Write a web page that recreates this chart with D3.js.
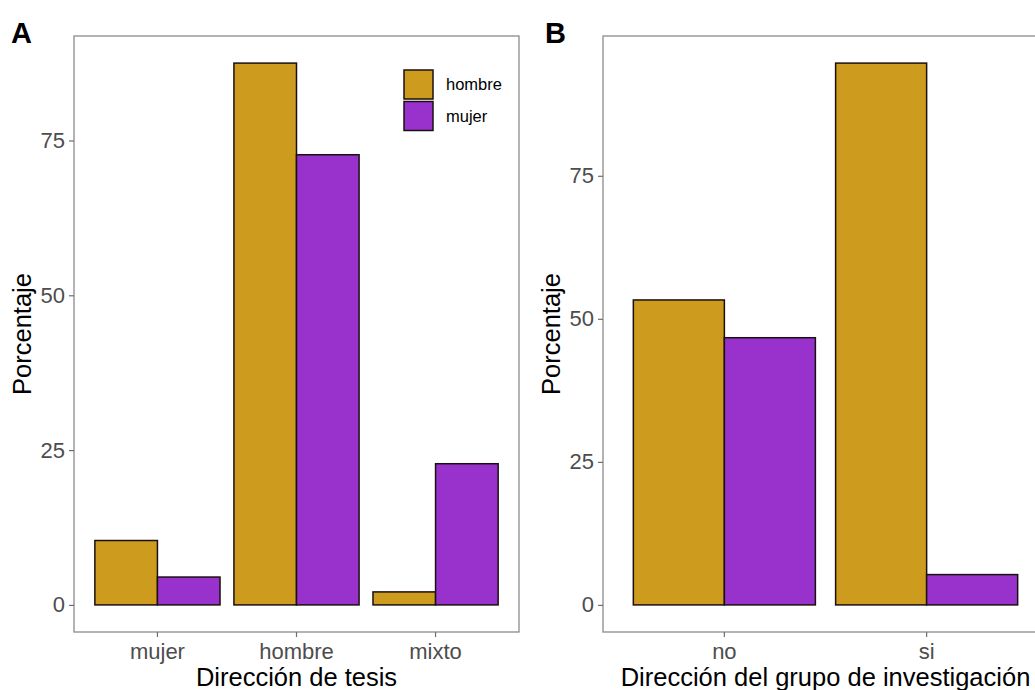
<!DOCTYPE html>
<html>
<head>
<meta charset="utf-8">
<script src="https://cdn.jsdelivr.net/npm/d3@7"></script>
<style>
  html, body { margin: 0; padding: 0; background: #fff; }
  svg { display: block; font-family: "Liberation Sans", Arial, Helvetica, sans-serif; }
</style>
</head>
<body>
<svg id="chart" width="1035" height="690"></svg>
<script>
// ---- data ----
const seriesNames = ["hombre", "mujer"];
const seriesColors = ["#CD9B1D", "#9932CC"];

const catsA = ["mujer", "hombre", "mixto"];
const hombreA = [10.4, 87.5, 2.1];
const mujerA = [4.5, 72.7, 22.8];

const catsB = ["no", "si"];
const hombreB = [53.3, 94.7];
const mujerB = [46.7, 5.3];

const yTicks = [0, 25, 50, 75];

const panelLetters = ["A", "B"];
const xTitles = ["Dirección de tesis", "Dirección del grupo de investigación"];
const yTitle = "Porcentaje";

// ---- drawing ----
const svg = d3.select("#chart");
const color = d3.scaleOrdinal().domain(seriesNames).range(seriesColors);

function panel(opts) {
  const { left, right, top, bottom, cats, hombre, mujer, letter, xTitle, letterX, legend } = opts;
  const g = svg.append("g");
  const maxV = d3.max(hombre.concat(mujer));
  const y = d3.scaleLinear().domain([-0.05 * maxV, 1.05 * maxV]).range([bottom, top]);
  const x0 = d3.scaleBand().domain(cats).range([left, right]).paddingInner(0).paddingOuter(0.1);
  const step = x0.step();
  const x1 = d3.scaleBand().domain(seriesNames).range([step * 0.05, step * 0.95]).padding(0);

  const rows = cats.map((c, i) => ({ cat: c, vals: [
    { s: "hombre", v: hombre[i] }, { s: "mujer", v: mujer[i] } ] }));

  // bars
  const gb = g.append("g");
  rows.forEach(r => {
    r.vals.forEach(d => {
      gb.append("rect")
        .attr("x", x0(r.cat) + x1(d.s))
        .attr("width", x1.bandwidth())
        .attr("y", y(d.v))
        .attr("height", y(0) - y(d.v))
        .attr("fill", color(d.s))
        .attr("stroke", "#1a1010")
        .attr("stroke-width", 1.5);
    });
  });

  // panel border
  g.append("rect")
    .attr("x", left).attr("y", top)
    .attr("width", right - left).attr("height", bottom - top)
    .attr("fill", "none").attr("stroke", "#8c8c8c").attr("stroke-width", 1.3);

  // y axis
  const ya = g.append("g").attr("transform", `translate(${left},0)`)
    .call(d3.axisLeft(y).tickValues(yTicks).tickSize(5).tickPadding(4));
  ya.select(".domain").remove();
  ya.selectAll(".tick line").attr("stroke", "#6e6e6e").attr("stroke-width", 1.2);
  ya.selectAll(".tick text").attr("fill", "#4d4d4d").style("font-size", "22px")
    .style("font-family", "'Liberation Sans', Arial, sans-serif");

  // x axis
  const xa = g.append("g").attr("transform", `translate(0,${bottom})`)
    .call(d3.axisBottom(x0).tickSize(5).tickPadding(6));
  xa.select(".domain").remove();
  xa.selectAll(".tick line").attr("stroke", "#6e6e6e").attr("stroke-width", 1.2);
  xa.selectAll(".tick text").attr("fill", "#4d4d4d").style("font-size", "22px")
    .style("font-family", "'Liberation Sans', Arial, sans-serif");

  // titles
  g.append("text")
    .attr("x", (left + right) / 2).attr("y", 686)
    .attr("text-anchor", "middle").attr("fill", "#000")
    .style("font-size", "25.5px").text(xTitle);

  g.append("text")
    .attr("transform", `translate(${left - 52},${(top + bottom) / 2}) rotate(-90)`)
    .attr("text-anchor", "middle").attr("dy", "0.35em").attr("fill", "#000")
    .style("font-size", "25.5px").text(yTitle);

  g.append("text")
    .attr("x", letterX).attr("y", 43)
    .attr("fill", "#000").style("font-size", "29px").style("font-weight", "bold")
    .text(letter);

  if (legend) {
    const lg = g.append("g");
    seriesNames.forEach((s, i) => {
      lg.append("rect")
        .attr("x", legend.x).attr("y", legend.y + i * 31.5)
        .attr("width", 29).attr("height", 29)
        .attr("fill", color(s)).attr("stroke", "#1a1010").attr("stroke-width", 1.5);
      lg.append("text")
        .attr("x", legend.x + 42).attr("y", legend.y + i * 31.5 + 14.5)
        .attr("dy", "0.35em").attr("fill", "#000")
        .style("font-size", "16.5px").text(s);
    });
  }
}

panel({ left: 74, right: 519, top: 36, bottom: 632,
  cats: catsA, hombre: hombreA, mujer: mujerA,
  letter: panelLetters[0], xTitle: xTitles[0], letterX: 11,
  legend: { x: 404, y: 70 } });

panel({ left: 603, right: 1048, top: 36, bottom: 632,
  cats: catsB, hombre: hombreB, mujer: mujerB,
  letter: panelLetters[1], xTitle: xTitles[1], letterX: 545,
  legend: null });
</script>
</body>
</html>
